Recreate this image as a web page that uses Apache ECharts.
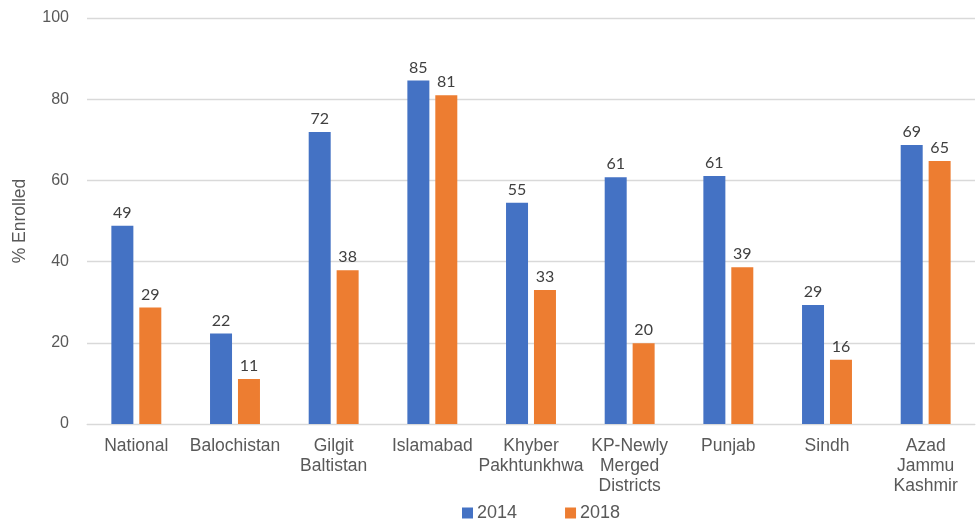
<!DOCTYPE html>
<html><head><meta charset="utf-8">
<script src="https://cdn.jsdelivr.net/npm/echarts@6/dist/echarts.min.js"></script>
<style>html,body{margin:0;padding:0;background:#fff}#c{width:976px;height:520px}</style>
</head><body><div id="c"></div>
<script>
const categories = ["National","Balochistan","Gilgit\nBaltistan","Islamabad","Khyber\nPakhtunkhwa","KP-Newly\nMerged\nDistricts","Punjab","Sindh","Azad\nJammu\nKashmir"];
const values2014 = [48.8, 22.3, 71.9, 84.6, 54.5, 60.8, 61.1, 29.3, 68.7];
const values2018 = [28.7, 11.1, 37.9, 81.0, 33.0, 19.9, 38.6, 15.8, 64.8];
const yTicks = {min: 0, max: 100, interval: 20};

const chart = echarts.init(document.getElementById('c'));
const ff = '"Liberation Sans", Arial, sans-serif';
const lbl = {show: true, position: 'top', distance: 5, color: '#404040', fontSize: 16, fontFamily: 'Lato, "Open Sans", sans-serif', formatter: p => Math.round(p.value)};
chart.setOption({
  animation: false,
  grid: {left: 87, right: 1, top: 18, bottom: 96},
  legend: {top: 504, left: 462, padding: 0, itemWidth: 11, itemHeight: 11, itemGap: 48, icon: 'rect',
    textStyle: {fontSize: 18, lineHeight: 18, color: '#595959', fontFamily: ff, padding: [0, 0, 0, -1]}},
  xAxis: {type: 'category', data: categories,
    axisLine: {lineStyle: {color: '#d9d9d9'}}, axisTick: {show: false},
    axisLabel: {interval: 0, color: '#595959', fontSize: 17.5, lineHeight: 20, margin: 12, fontFamily: ff}},
  yAxis: {type: 'value', min: yTicks.min, max: yTicks.max, interval: yTicks.interval,
    name: '% Enrolled', nameLocation: 'middle', nameGap: 58, nameTextStyle: {fontSize: 17.5, color: '#595959', fontFamily: ff},
    axisLine: {show: false}, axisTick: {show: false},
    axisLabel: {color: '#595959', fontSize: 16, margin: 18, fontFamily: ff},
    splitLine: {lineStyle: {color: '#d9d9d9', width: 1.3}}},
  series: [
    {name: '2014', type: 'bar', data: values2014, barWidth: 22, barGap: '27%', itemStyle: {color: '#4472C4'}, label: lbl},
    {name: '2018', type: 'bar', data: values2018, barWidth: 22, barGap: '27%', itemStyle: {color: '#ED7D31'}, label: lbl}
  ]
});
</script></body></html>
